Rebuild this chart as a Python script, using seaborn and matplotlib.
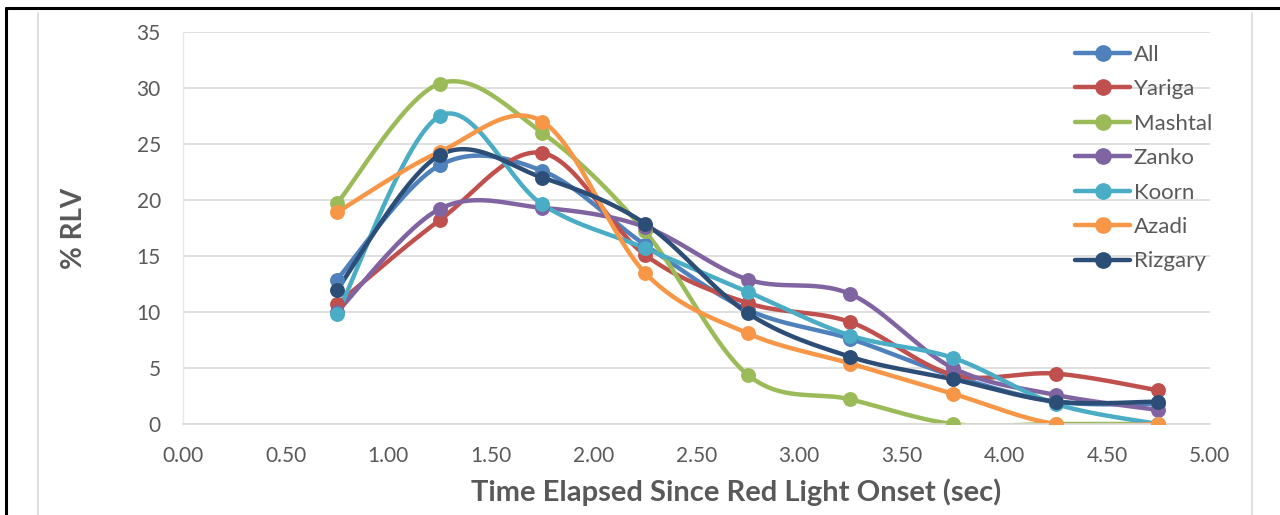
import numpy as np
import pandas as pd
import matplotlib
matplotlib.use("Agg")
import matplotlib.pyplot as plt
from matplotlib.lines import Line2D
import seaborn as sns

# ---- data ----
times = [0.75, 1.25, 1.75, 2.25, 2.75, 3.25, 3.75, 4.25, 4.75]
series_names = ["All", "Yariga", "Mashtal", "Zanko", "Koorn", "Azadi", "Rizgary"]
all_vals     = [12.9, 23.1, 22.6, 16.0, 10.2, 7.6, 4.3, 2.0, 1.8]
yariga_vals  = [10.7, 18.2, 24.2, 15.1, 10.8, 9.1, 4.4, 4.5, 3.0]
mashtal_vals = [19.7, 30.4, 26.0, 17.2, 4.4, 2.2, 0.0, 0.0, 0.0]
zanko_vals   = [10.0, 19.2, 19.3, 17.6, 12.9, 11.6, 5.0, 2.6, 1.25]
koorn_vals   = [9.8, 27.5, 19.6, 15.7, 11.8, 7.9, 5.9, 1.8, 0.0]
azadi_vals   = [18.9, 24.3, 27.0, 13.5, 8.1, 5.4, 2.7, 0.0, 0.0]
rizgary_vals = [12.0, 24.0, 22.0, 17.9, 9.9, 6.0, 4.0, 2.0, 2.0]
colors = ["#4F81BD", "#C0504D", "#9BBB59", "#8064A2", "#4BACC6", "#F79646", "#2C4D75"]

values = [all_vals, yariga_vals, mashtal_vals, zanko_vals, koorn_vals, azadi_vals, rizgary_vals]


def smooth(xs, ys, n=30):
    """Excel-style smoothed line (Catmull-Rom Bezier) through the given points."""
    P = np.column_stack([xs, ys]).astype(float)
    out = []
    m = len(P)
    t = np.linspace(0, 1, n)
    for i in range(m - 1):
        p0 = P[i]
        p3 = P[i + 1]
        pm = P[i - 1] if i > 0 else P[i]
        pp = P[i + 2] if i + 2 < m else P[i + 1]
        c1 = p0 + (p3 - pm) / 6.0
        c2 = p3 - (pp - p0) / 6.0
        seg = ((1 - t) ** 3)[:, None] * p0 + (3 * (1 - t) ** 2 * t)[:, None] * c1 \
            + (3 * (1 - t) * t ** 2)[:, None] * c2 + (t ** 3)[:, None] * p3
        out.append(seg if i == 0 else seg[1:])
    arr = np.vstack(out)
    return arr[:, 0], arr[:, 1]


sns.set_theme(style="white")
plt.rcParams["font.family"] = ["Lato", "DejaVu Sans"]

fig = plt.figure(figsize=(12.8, 5.15), dpi=100)
ax = fig.add_axes([0.143, 0.1767, 0.802, 0.7612])

for name, vals, col in zip(series_names, values, colors):
    sx, sy = smooth(times, vals)
    df = pd.DataFrame({"x": sx, "y": sy})
    sns.lineplot(data=df, x="x", y="y", ax=ax, color=col, lw=3.2, sort=False,
                 estimator=None, legend=False)
    pts = pd.DataFrame({"x": times, "y": vals})
    sns.scatterplot(data=pts, x="x", y="y", ax=ax, color=col, s=115,
                    edgecolor=col, linewidth=0, legend=False, zorder=3)

ax.set_xlim(0, 5)
ax.set_ylim(0, 35)
ax.set_xticks(np.arange(0, 5.01, 0.5))
ax.set_xticklabels([f"{v:.2f}" for v in np.arange(0, 5.01, 0.5)])
ax.set_yticks(np.arange(0, 36, 5))
ax.tick_params(axis="both", labelsize=15, labelcolor="#595959", length=0)
ax.tick_params(axis="x", pad=16)
ax.tick_params(axis="y", pad=16)
ax.grid(axis="y", color="#D9D9D9", lw=1.2)
ax.set_axisbelow(True)
for s in ["top", "right"]:
    ax.spines[s].set_visible(False)
ax.spines["left"].set_color("#E3E9F2")
ax.spines["bottom"].set_color("#D9D9D9")
ax.spines["left"].set_linewidth(1.0)
ax.spines["bottom"].set_linewidth(1.2)

ax.set_xlabel("Time Elapsed Since Red Light Onset (sec)", fontsize=21,
              fontweight="bold", color="#595959")
ax.xaxis.set_label_coords(0.539, -0.14)
ax.set_ylabel("% RLV", fontsize=20, fontweight="bold", color="#595959")
ax.yaxis.set_label_coords(-0.094, 0.5)

handles = [Line2D([0], [0], color=c, lw=3.2, marker="o", markersize=11)
           for c in colors]
leg = ax.legend(handles, series_names, loc="upper left", bbox_to_anchor=(0.86, 0.99),
                frameon=False, fontsize=16, labelspacing=0.65, handlelength=2.5,
                handletextpad=0.15, borderaxespad=0)
for t in leg.get_texts():
    t.set_color("#595959")

# outer frame lines
fig.add_artist(Line2D([0.005, 0.005], [0, 0.985], color="black", lw=2.2,
                      transform=fig.transFigure))
fig.add_artist(Line2D([0.005, 1.0], [0.985, 0.985], color="black", lw=2.2,
                      transform=fig.transFigure))
fig.add_artist(Line2D([0.0297, 0.0297], [0, 0.975], color="#D9D9D9", lw=1.2,
                      transform=fig.transFigure))
fig.add_artist(Line2D([0.978, 0.978], [0, 0.975], color="#D9D9D9", lw=1.2,
                      transform=fig.transFigure))

fig.savefig("out.png", dpi=100)
